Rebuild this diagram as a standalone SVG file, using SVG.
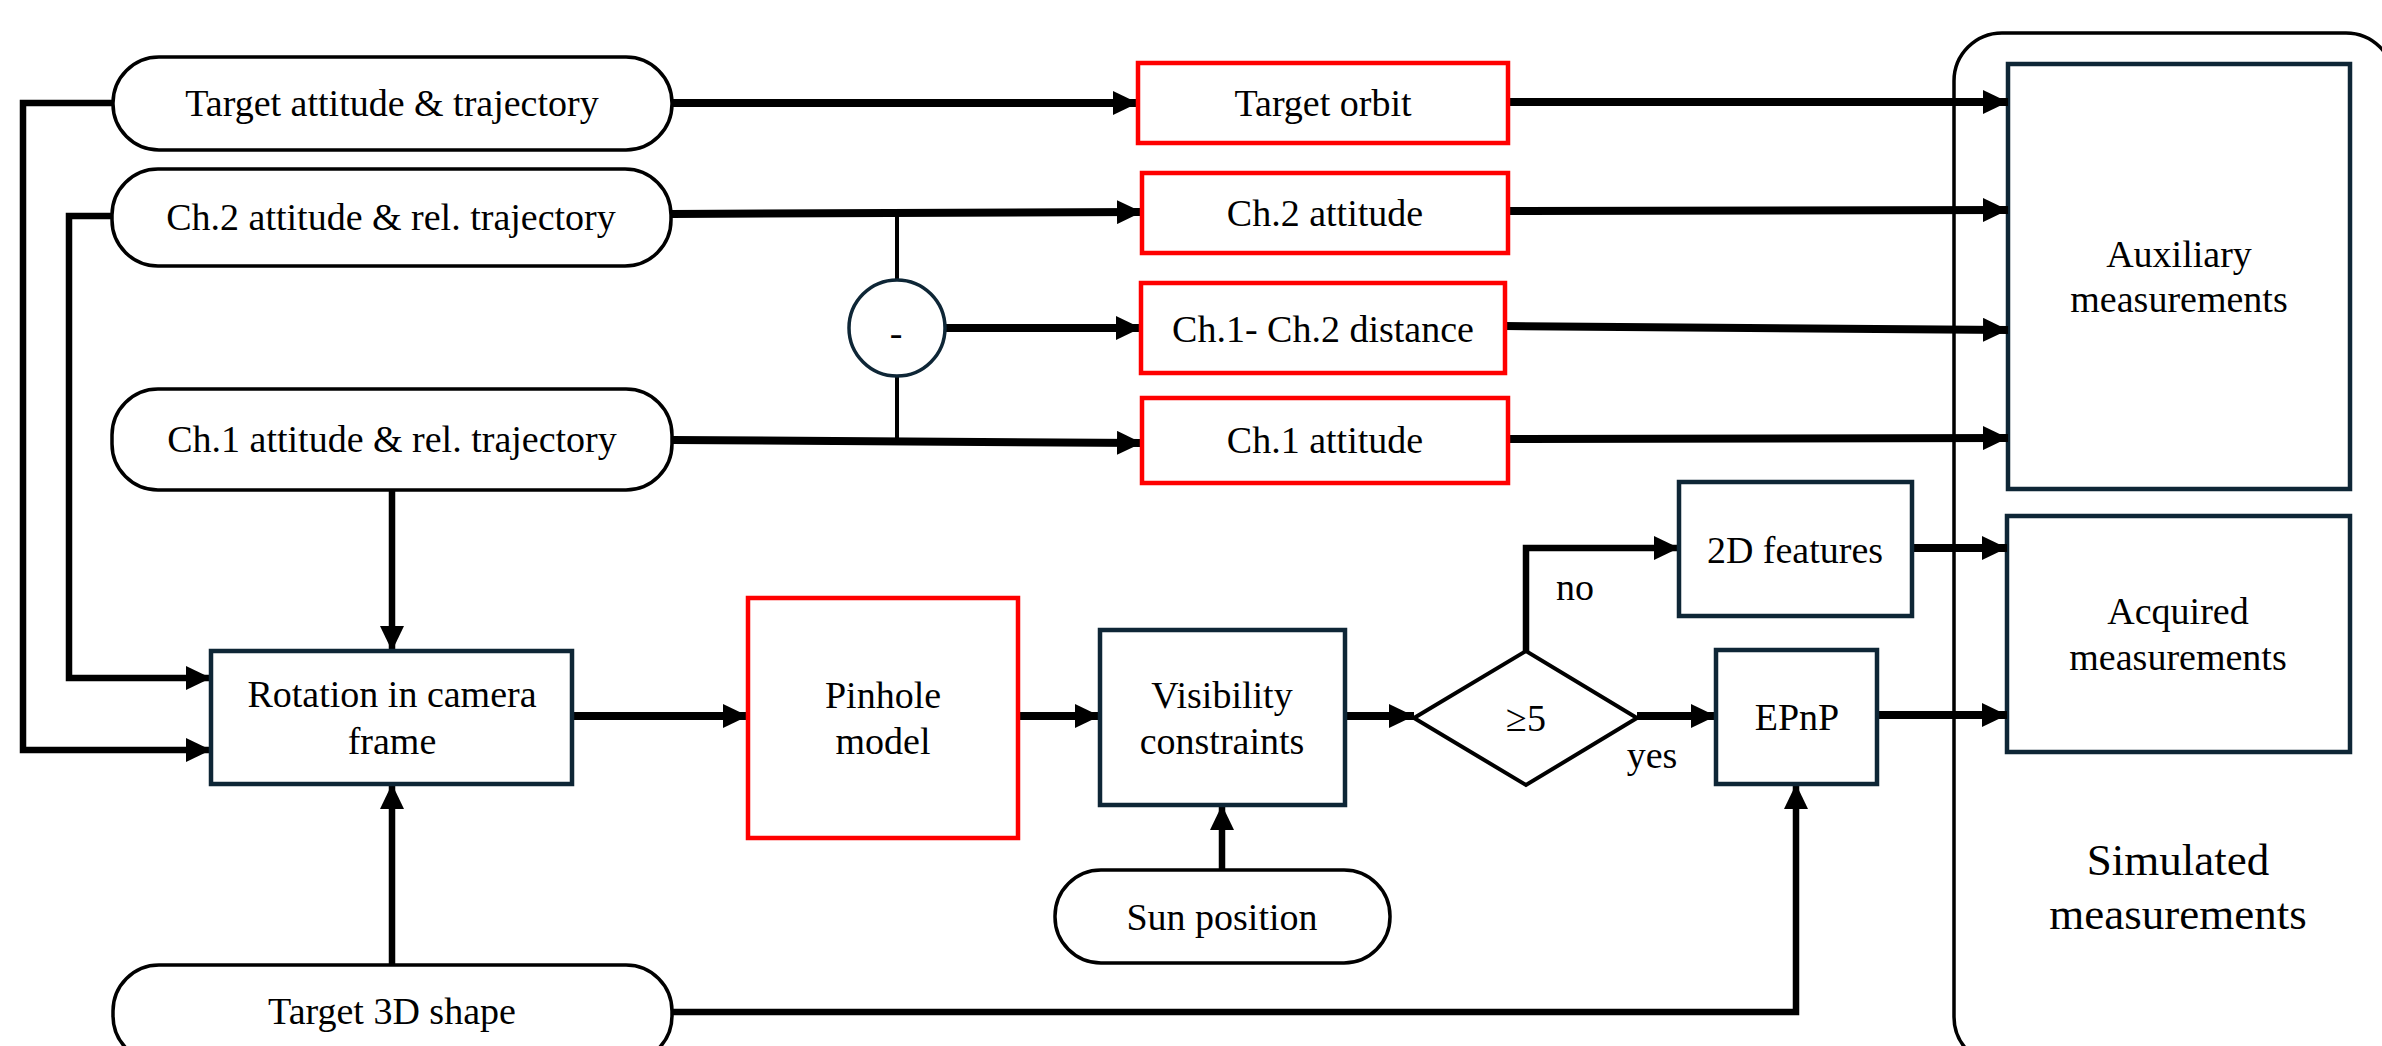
<svg xmlns="http://www.w3.org/2000/svg" width="2382" height="1046" viewBox="0 0 2382 1046">
<style>
text{font-family:"Liberation Serif","Times New Roman",serif;font-size:38px;fill:#000;text-anchor:middle}
.pill{fill:#fff;stroke:#000;stroke-width:3.5}
.box{fill:#fff;stroke:#0e2636;stroke-width:4.5}
.red{fill:#fff;stroke:#ff0000;stroke-width:4.5}
.w{fill:none;stroke:#000;stroke-width:8}
.v{fill:none;stroke:#000;stroke-width:6.5}
.t{fill:none;stroke:#000;stroke-width:4}
.a{marker-end:url(#ah)}
</style>
<defs>
<marker id="ah" viewBox="0 0 25 24" refX="25" refY="12" markerWidth="25" markerHeight="24" markerUnits="userSpaceOnUse" orient="auto">
<path d="M0,0 L25,12 L0,24 z" fill="#000"/>
</marker>
</defs>
<rect width="2382" height="1046" fill="#fff"/>

<g id="simulated">
<rect x="1954" y="33" width="440" height="1032" rx="48" ry="48" fill="#fff" stroke="#000" stroke-width="3.5"/>
<text x="2178" y="875" style="font-size:45px">Simulated</text>
<text x="2178" y="929" style="font-size:45px">measurements</text>
</g>

<g id="auxiliary">
<rect class="box" x="2008" y="64" width="342" height="425"/>
<text x="2179" y="267">Auxiliary</text>
<text x="2179" y="312">measurements</text>
</g>
<g id="acquired">
<rect class="box" x="2007" y="516" width="343" height="236"/>
<text x="2178" y="624">Acquired</text>
<text x="2178" y="670">measurements</text>
</g>

<g id="connectors">
<path class="w a" d="M672,103 L1138,103"/>
<path class="w a" d="M671,214 L1142,212"/>
<path class="t" d="M897,212 L897,280"/>
<path class="w a" d="M945,328 L1141,328"/>
<path class="t" d="M897,377 L897,440"/>
<path class="w a" d="M672,440 L1142,443"/>
<path class="w a" d="M1508,102 L2008,102"/>
<path class="w a" d="M1508,211 L2008,210"/>
<path class="w a" d="M1505,326 L2008,330"/>
<path class="w a" d="M1508,439 L2008,438"/>
<path class="v a" d="M113,103 L23,103 L23,750 L211,750"/>
<path class="v a" d="M112,216 L69,216 L69,678 L211,678"/>
<path class="v a" d="M392,490 L392,651"/>
<path class="v a" d="M392,965 L392,784"/>
<path class="w a" d="M572,716 L748,716"/>
<path class="w a" d="M1018,716 L1100,716"/>
<path class="w a" d="M1345,716 L1414,716"/>
<path class="v a" d="M1222,870 L1222,805"/>
<path class="v a" d="M1526,651 L1526,548 L1679,548"/>
<path class="w a" d="M1637,716 L1716,716"/>
<path class="w a" d="M1912,548 L2007,548"/>
<path class="w a" d="M1877,715 L2007,715"/>
<path class="v a" d="M672,1012 L1796,1012 L1796,784"/>
</g>

<g id="target-attitude">
<rect class="pill" x="113" y="57" width="559" height="93" rx="46" ry="46"/>
<text x="392" y="116">Target attitude &amp; trajectory</text>
</g>
<g id="ch2-traj">
<rect class="pill" x="112" y="169" width="559" height="97" rx="46" ry="46"/>
<text x="391" y="230">Ch.2 attitude &amp; rel. trajectory</text>
</g>
<g id="ch1-traj">
<rect class="pill" x="112" y="389" width="560" height="101" rx="46" ry="46"/>
<text x="392" y="452">Ch.1 attitude &amp; rel. trajectory</text>
</g>
<g id="target-3d">
<rect class="pill" x="113" y="965" width="559" height="97" rx="46" ry="46"/>
<text x="392" y="1024">Target 3D shape</text>
</g>

<g id="target-orbit">
<rect class="red" x="1138" y="63" width="370" height="80"/>
<text x="1323" y="116">Target orbit</text>
</g>
<g id="ch2-attitude">
<rect class="red" x="1142" y="173" width="366" height="80"/>
<text x="1325" y="226">Ch.2 attitude</text>
</g>
<g id="distance">
<rect class="red" x="1141" y="283" width="364" height="90"/>
<text x="1323" y="342">Ch.1- Ch.2 distance</text>
</g>
<g id="ch1-attitude">
<rect class="red" x="1142" y="398" width="366" height="85"/>
<text x="1325" y="453">Ch.1 attitude</text>
</g>

<g id="minus">
<circle cx="897" cy="328" r="48" fill="#fff" stroke="#0e2636" stroke-width="3.5"/>
<text x="896" y="346">-</text>
</g>

<g id="rotation">
<rect class="box" x="211" y="651" width="361" height="133"/>
<text x="392" y="707">Rotation in camera</text>
<text x="392" y="754">frame</text>
</g>
<g id="pinhole">
<rect class="red" x="748" y="598" width="270" height="240"/>
<text x="883" y="708">Pinhole</text>
<text x="883" y="754">model</text>
</g>
<g id="visibility">
<rect class="box" x="1100" y="630" width="245" height="175"/>
<text x="1222" y="708">Visibility</text>
<text x="1222" y="754">constraints</text>
</g>
<g id="sun">
<rect class="pill" x="1055" y="870" width="335" height="93" rx="46" ry="46"/>
<text x="1222" y="930">Sun position</text>
</g>
<g id="decision">
<polygon points="1414,718 1526,651 1637,718 1526,785" fill="#fff" stroke="#000" stroke-width="4"/>
<text x="1526" y="731">≥5</text>
</g>
<g id="features2d">
<rect class="box" x="1679" y="482" width="233" height="134"/>
<text x="1795" y="563">2D features</text>
</g>
<g id="epnp">
<rect class="box" x="1716" y="650" width="161" height="134"/>
<text x="1797" y="730">EPnP</text>
</g>
<text x="1575" y="600">no</text>
<text x="1652" y="768">yes</text>
</svg>
